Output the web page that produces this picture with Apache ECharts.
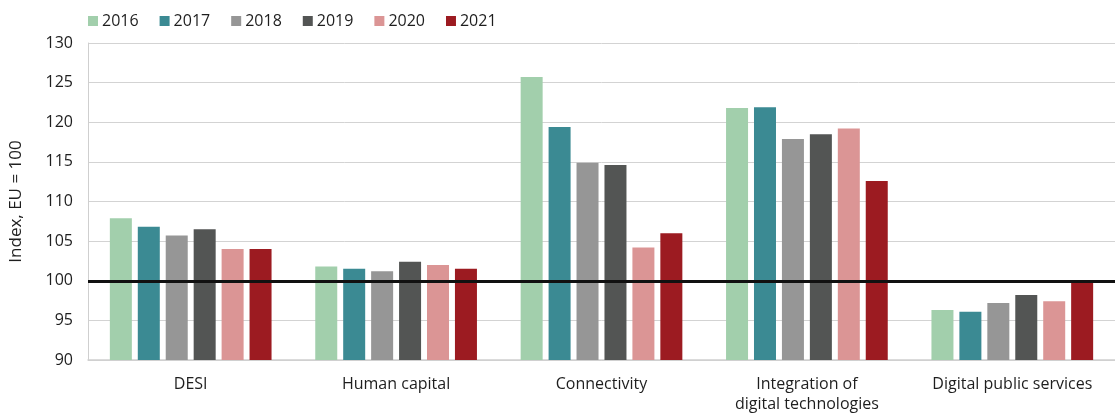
<!DOCTYPE html>
<html>
<head>
<meta charset="utf-8">
<script src="https://cdn.jsdelivr.net/npm/echarts@6/dist/echarts.min.js"></script>
<style>
  html, body { margin: 0; padding: 0; background: #fff; }
  #chart { width: 1115px; height: 414px; }
</style>
</head>
<body>
<div id="chart"></div>
<script>
// DESI dimension scores relative to the EU average (EU = 100)
const categories = ['DESI', 'Human capital', 'Connectivity', 'Integration of\ndigital technologies', 'Digital public services'];
const years = ['2016', '2017', '2018', '2019', '2020', '2021'];
const values2016 = [107.9, 101.8, 125.7, 121.8, 96.3];
const values2017 = [106.8, 101.5, 119.4, 121.9, 96.1];
const values2018 = [105.7, 101.2, 114.9, 117.9, 97.2];
const values2019 = [106.5, 102.4, 114.6, 118.5, 98.2];
const values2020 = [104.0, 102.0, 104.2, 119.2, 97.4];
const values2021 = [104.0, 101.5, 106.0, 112.6, 99.9];
const yTicks = [90, 95, 100, 105, 110, 115, 120, 125, 130];
const euAverage = 100;

const seriesValues = [values2016, values2017, values2018, values2019, values2020, values2021];
const colors = ['#a2cfac', '#3b8a93', '#969696', '#535554', '#db9595', '#9c1b21'];
const font = '"Open Sans", "Noto Sans", sans-serif';
const textColor = '#1e1e1e';

const series = years.map((y, i) => {
  const s = {
    name: y,
    type: 'bar',
    data: seriesValues[i],
    barWidth: 22,
    barGap: '27%',
    itemStyle: { color: colors[i] }
  };
  if (i === years.length - 1) {
    // EU average reference line, drawn above all bars
    s.markLine = {
      silent: true,
      symbol: 'none',
      label: { show: false },
      lineStyle: { color: '#111', width: 3, type: 'solid' },
      data: [{ yAxis: euAverage }]
    };
  }
  return s;
});

const chart = echarts.init(document.getElementById('chart'), null, { renderer: 'canvas' });
chart.setOption({
  animation: false,
  textStyle: { fontFamily: font },
  color: colors,
  legend: {
    top: 8,
    left: 83,
    itemWidth: 10,
    itemHeight: 10,
    itemGap: 21,
    icon: 'rect',
    textStyle: { fontSize: 16, color: textColor, fontFamily: font, padding: [0, 0, 0, -1] },
    data: years
  },
  grid: { left: 86, right: -7, top: 43, bottom: 51, containLabel: false },
  xAxis: {
    type: 'category',
    data: categories,
    axisTick: { show: false },
    axisLine: { lineStyle: { color: '#cfcfcf', width: 1.5 } },
    axisLabel: { fontSize: 16, color: textColor, margin: 14, lineHeight: 20, interval: 0 }
  },
  yAxis: {
    type: 'value',
    min: yTicks[0],
    max: yTicks[yTicks.length - 1],
    interval: 5,
    name: 'Index, EU = 100',
    nameLocation: 'middle',
    nameGap: 63,
    nameTextStyle: { fontSize: 17, color: textColor },
    axisLine: { show: true, lineStyle: { color: '#cfcfcf', width: 1 } },
    axisTick: { show: false },
    splitLine: { lineStyle: { color: '#d3d3d3', width: 1 } },
    axisLabel: { fontSize: 16, color: textColor, margin: 15 }
  },
  series: series
});
</script>
</body>
</html>
